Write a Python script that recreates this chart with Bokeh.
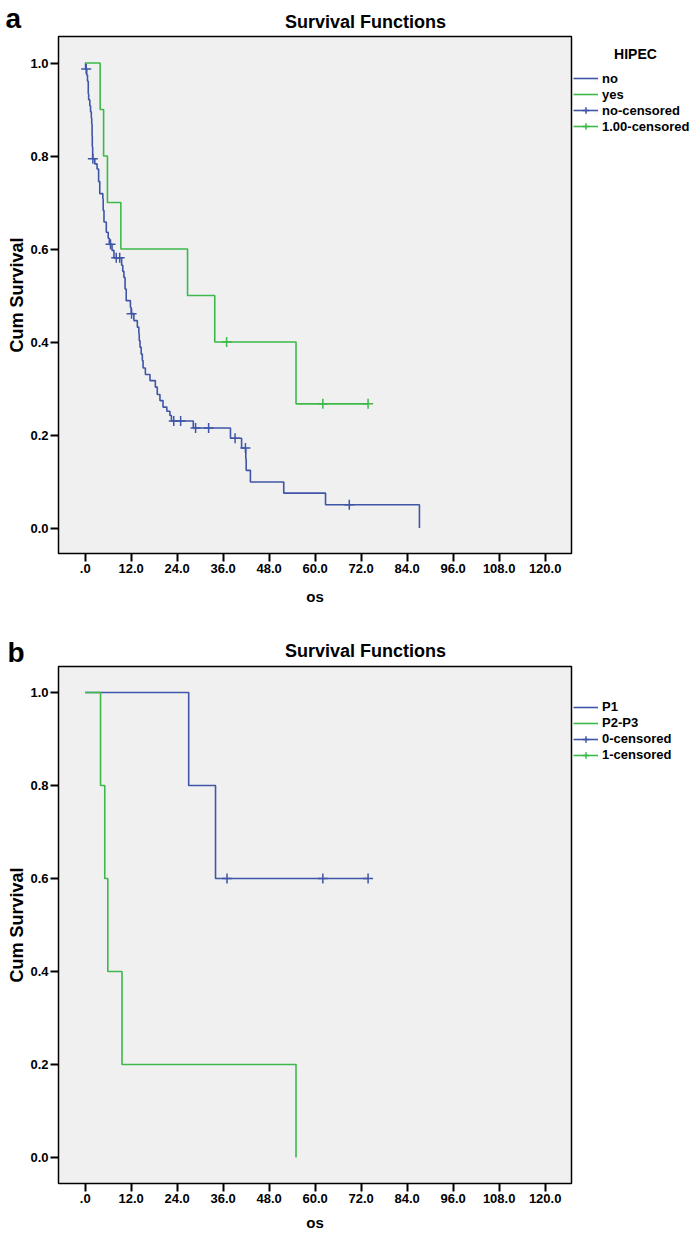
import numpy as np
from bokeh.plotting import figure
from bokeh.layouts import column, row
from bokeh.models import Range1d, FixedTicker, NumeralTickFormatter, Label, Legend, LegendItem
from bokeh.embed import file_html
from bokeh.resources import INLINE

# ---------------- data: panel a (HIPEC) ----------------
no_time = [0, 0.1, 0.4, 0.6, 0.8, 0.9, 1.2, 1.4, 1.6, 1.7, 1.8, 1.85, 1.95, 2.5, 3.1, 3.5, 3.8,
           4.6, 4.7, 4.9, 5.5, 6.0, 6.3, 7.0, 7.5, 9.5, 9.8, 10.1, 10.4, 10.7, 11.8, 12.0,
           12.7, 13.6, 14.0, 14.1, 14.3, 14.6, 14.9, 15.1, 15.7, 16.9, 18.3, 18.8, 19.5,
           20.3, 21.3, 22.1, 22.5, 28.2, 37.9, 40.8, 41.9, 42.0, 43.1, 51.8, 62.7, 87.2]
no_surv = [1.0, 0.987, 0.974, 0.961, 0.934, 0.921, 0.908, 0.895, 0.882, 0.869, 0.843, 0.820, 0.794,
           0.783, 0.772, 0.745, 0.719, 0.708, 0.683, 0.658, 0.636, 0.623, 0.610, 0.597, 0.581,
           0.565, 0.552, 0.539, 0.514, 0.489, 0.474, 0.461, 0.446, 0.432, 0.418, 0.403, 0.389,
           0.374, 0.360, 0.344, 0.330, 0.317, 0.303, 0.287, 0.274, 0.260, 0.251, 0.242, 0.230,
           0.215, 0.193, 0.172, 0.148, 0.124, 0.099, 0.075, 0.050, 0.0]
no_cens = [0.26, 2.0, 6.6, 8.1, 9.0, 12.1, 23.1, 24.9, 28.8, 32.2, 39.1, 41.8, 68.9]

yes_time = [0, 3.9, 4.8, 5.8, 9.3, 26.7, 33.8, 55.0, 73.8]
yes_surv = [1.0, 0.9, 0.8, 0.7, 0.6, 0.5, 0.4, 0.267, 0.267]
yes_cens = [36.9, 62.0, 73.8]

# ---------------- data: panel b (P stage) ----------------
p1_time = [0, 27.0, 34.0, 73.8]
p1_surv = [1.0, 0.8, 0.6, 0.6]
p1_cens = [37.0, 62.0, 73.8]

p23_time = [0, 4.0, 5.1, 5.9, 9.6, 55.0]
p23_surv = [1.0, 0.8, 0.6, 0.4, 0.2, 0.0]
p23_cens = []

x_ticks = [0, 12, 24, 36, 48, 60, 72, 84, 96, 108, 120]
x_tick_labels = [".0", "12.0", "24.0", "36.0", "48.0", "60.0", "72.0", "84.0", "96.0", "108.0", "120.0"]
y_ticks = [0.0, 0.2, 0.4, 0.6, 0.8, 1.0]

BLUE = "#3f55a6"
GREEN = "#3cb94a"
FONT = "Liberation Sans"

TOTAL_W = 700
MAIN_W = 573
SIDE_W = TOTAL_W - MAIN_W
FL, FH = 58, 517


def surv_at(times, survs, t):
    if len(t) == 0:
        return []
    idx = np.searchsorted(np.array(times), np.array(t), side="right") - 1
    return [survs[i] for i in idx]


def blank(width, height, top=0, bottom=0):
    f = figure(width=width, height=height, output_backend="svg", toolbar_location=None,
               x_range=Range1d(0, width), y_range=Range1d(height - top - bottom, 0),
               x_axis_location=None, y_axis_location=None,
               min_border=0, min_border_left=0, min_border_right=0,
               min_border_top=top, min_border_bottom=bottom)
    f.outline_line_color = None
    f.background_fill_color = "white"
    f.border_fill_color = "white"
    f.grid.visible = False
    return f


def header(height, letter, letter_x, letter_base, title_y):
    h = blank(TOTAL_W, height)
    h.add_layout(Label(x=letter_x, y=letter_base, text=letter, text_font=FONT,
                       text_font_style="bold", text_font_size="28px", text_align="left",
                       text_baseline="alphabetic", text_color="black"))
    h.add_layout(Label(x=365, y=title_y, text="Survival Functions", text_font=FONT,
                       text_font_style="bold", text_font_size="18px", text_align="center",
                       text_baseline="middle", text_color="black"))
    return h


def main_panel(height, top, yr, xr, curves, xlabel_standoff):
    p = figure(width=MAIN_W, height=height, output_backend="svg", toolbar_location=None,
               x_range=Range1d(*xr), y_range=Range1d(*yr),
               min_border_left=FL, min_border_right=2, min_border_top=top,
               min_border_bottom=height - top - FH)
    p.background_fill_color = "#f0f0f0"
    p.border_fill_color = "white"
    p.outline_line_color = "black"
    p.outline_line_width = 1.5
    p.grid.visible = False

    for ax in (p.xaxis[0], p.yaxis[0]):
        ax.axis_line_color = None
        ax.major_tick_out = 8
        ax.major_tick_in = 0
        ax.major_tick_line_width = 2
        ax.major_tick_line_color = "black"
        ax.minor_tick_line_color = None
        ax.major_label_text_font = FONT
        ax.major_label_text_font_style = "bold"
        ax.major_label_text_font_size = "13px"
        ax.major_label_text_color = "black"
        ax.axis_label_text_font = FONT
        ax.axis_label_text_font_style = "bold"
        ax.axis_label_text_color = "black"
    p.xaxis.ticker = FixedTicker(ticks=x_ticks)
    p.xaxis.major_label_overrides = dict(zip(x_ticks, x_tick_labels))
    p.xaxis.major_label_standoff = 2
    p.xaxis.axis_label = "os"
    p.xaxis.axis_label_text_font_size = "15px"
    p.xaxis.axis_label_standoff = xlabel_standoff
    p.yaxis.ticker = FixedTicker(ticks=y_ticks)
    p.yaxis.formatter = NumeralTickFormatter(format="0.0")
    p.yaxis.major_label_standoff = 2
    p.yaxis.axis_label = "Cum Survival"
    p.yaxis.axis_label_text_font_size = "18px"
    p.yaxis.axis_label_standoff = 0

    for t, s, cens, color in curves:
        p.step(t, s, mode="after", line_color=color, line_width=1.6)
        if cens:
            p.scatter(list(cens), surv_at(t, s, cens), marker="cross", size=10,
                      line_color=color, line_width=1.5)
    return p


def side_panel(height, top, legend_spec, legend_title, first_center):
    bottom = height - top - FH
    s = blank(SIDE_W, height, top=top, bottom=bottom)
    items = []
    for label, color, with_cross in legend_spec:
        # legend-only renderers, kept outside the visible range
        rs = [s.line(x=[-1000], y=[-1000], line_color=color, line_width=1.6)]
        if with_cross:
            rs.append(s.scatter(x=[-1000], y=[-1000], marker="cross", size=10,
                                line_color=color, line_width=1.5))
        items.append(LegendItem(label=label, renderers=rs))
    leg_h = 16 * len(items)
    leg_top = first_center - 8
    legend = Legend(items=items, location=(0, FH - leg_top - leg_h),
                    border_line_color=None, background_fill_alpha=0,
                    label_text_font=FONT, label_text_font_style="bold",
                    label_text_font_size="13px", label_text_color="black",
                    glyph_width=25, glyph_height=16, label_height=16, spacing=0,
                    padding=0, margin=0, label_standoff=4)
    s.add_layout(legend, "center")
    if legend_title:
        s.add_layout(Label(x=62, y=first_center - 24.8, text=legend_title, text_font=FONT,
                           text_font_style="bold", text_font_size="14px", text_align="center",
                           text_baseline="middle", text_color="black"))
    return s


xr = (-6.966, 126.87)

# panel a: header page y 0..34, plot row 34..615 (frame 36..553)
head_a = header(34, "a", 5, 18, 21.7)
main_a = main_panel(581, 2, (-0.0548, 1.0570), xr,
                    [(no_time, no_surv, no_cens, BLUE),
                     (yes_time, yes_surv, yes_cens, GREEN)], 12)
side_a = side_panel(581, 2, [("no", BLUE, False), ("yes", GREEN, False),
                             ("no-censored", BLUE, True), ("1.00-censored", GREEN, True)],
                    "HIPEC", 42.3)

# panel b: header page y 615..665, plot row 665..1234 (frame 666..1183)
head_b = header(50, "b", 7, 37, 35)
main_b = main_panel(569, 1, (-0.0559, 1.0559), xr,
                    [(p1_time, p1_surv, p1_cens, BLUE),
                     (p23_time, p23_surv, p23_cens, GREEN)], 8)
side_b = side_panel(569, 1, [("P1", BLUE, False), ("P2-P3", GREEN, False),
                             ("0-censored", BLUE, True), ("1-censored", GREEN, True)],
                    None, 40.7)

layout = column(head_a, row(main_a, side_a, spacing=0), head_b, row(main_b, side_b, spacing=0),
                spacing=0)
open("out.html", "w").write(file_html(layout, INLINE))
